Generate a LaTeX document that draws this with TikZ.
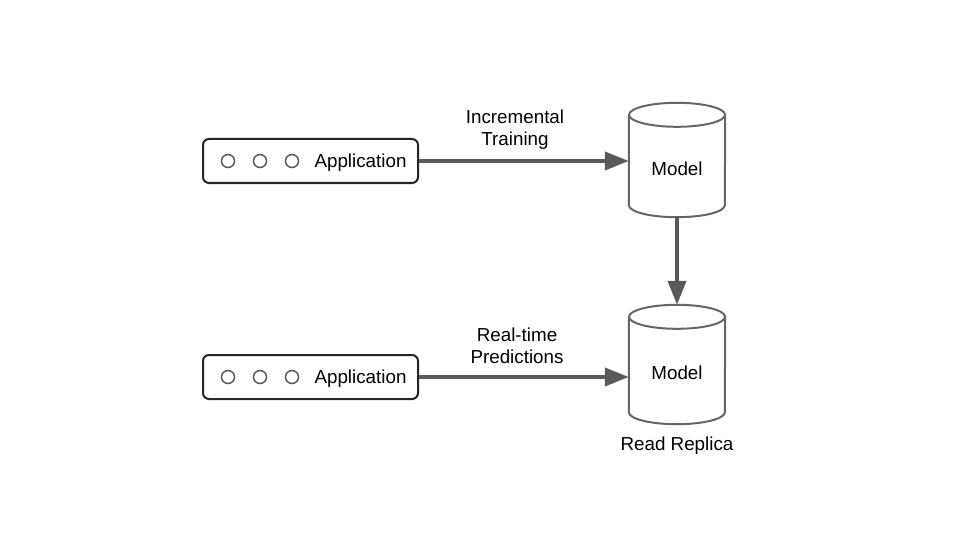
\documentclass[tikz,border=0pt]{standalone}
\usepackage{fontspec}
\setmainfont{Liberation Sans}
\usetikzlibrary{arrows.meta}
\begin{document}
\begin{tikzpicture}[x=1pt,y=-1pt,
 appbox/.style={draw=black!85, line width=2pt, rounded corners=6pt, minimum width=215pt, minimum height=44pt, inner sep=0pt},
 dot/.style={circle, draw=black!65, line width=1.5pt, minimum size=13pt, inner sep=0pt},
 flow/.style={draw=black!65, line width=4pt, -{Triangle[length=24pt,width=18pt]}},
 lbl/.style={font=\fontsize{18.8}{22}\selectfont, align=center, inner sep=0pt},
 cylbox/.style={minimum width=96pt, inner sep=0pt, draw=none},
 cyl/.style={draw=black!60, line width=2pt}
]
\useasboundingbox[fill=white] (0,0) rectangle (960,540);

% applications
\node[appbox] (app1) at (310.5,161) {};
\node[dot] (d11) at (228,161) {};
\node[dot] (d12) at (260,161) {};
\node[dot] (d13) at (292,161) {};
\node[lbl] (a1t) at (360.5,162.5) {Application};

\node[appbox] (app2) at (310.5,377) {};
\node[dot] (d21) at (228,377) {};
\node[dot] (d22) at (260,377) {};
\node[dot] (d23) at (292,377) {};
\node[lbl] (a2t) at (360.5,378.5) {Application};

% models
\node[cylbox, minimum height=114pt] (m1) at (677,160) {};
\draw[cyl] ([yshift=-12pt]m1.north) ellipse [x radius=48pt, y radius=12pt];
\draw[cyl] ([yshift=-12pt]m1.north west) -- ([yshift=12pt]m1.south west)
  arc[start angle=180, end angle=360, x radius=48pt, y radius=12pt]
  -- ([yshift=-12pt]m1.north east);
\node[lbl] (m1t) at (677,168.5) {Model};

\node[cylbox, minimum height=119pt] (m2) at (677,364.5) {};
\draw[cyl] ([yshift=-12pt]m2.north) ellipse [x radius=48pt, y radius=12pt];
\draw[cyl] ([yshift=-12pt]m2.north west) -- ([yshift=12pt]m2.south west)
  arc[start angle=180, end angle=360, x radius=48pt, y radius=12pt]
  -- ([yshift=-12pt]m2.north east);
\node[lbl] (m2t) at (677,372.5) {Model};
\node[lbl] (rr) at (677,445.5) {Read Replica};

% connectors
\draw[flow] (app1.east) -- (app1.east -| m1.west);
\draw[flow] (app2.east) -- (app2.east -| m2.west);
\draw[flow] (m1.south) -- (m2.north);

\node[lbl] (l1) at (515,129.5) {Incremental\\Training};
\node[lbl] (l2) at (517,345.5) {Real-time\\Predictions};
\end{tikzpicture}
\end{document}
